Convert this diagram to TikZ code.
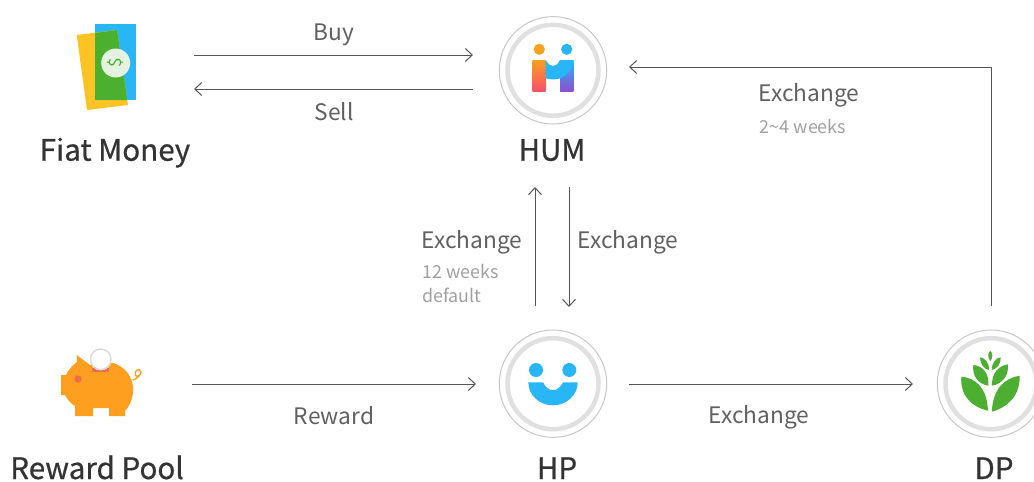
\documentclass[tikz,border=0pt]{standalone}
\usepackage{fontspec}
\setmainfont{Noto Sans CJK KR}
\usetikzlibrary{arrows.meta}
\definecolor{linegray}{HTML}{555555}
\definecolor{txt}{HTML}{606060}
\definecolor{smalltxt}{HTML}{A0A0A0}
\definecolor{darktxt}{HTML}{333333}
\definecolor{skyb}{HTML}{29B6F6}
\definecolor{leafg}{HTML}{4CAF32}
\definecolor{moneyg}{HTML}{4BB02E}
\definecolor{yel}{HTML}{FDC325}
\definecolor{pig}{HTML}{FF9F20}
\definecolor{pigeye}{HTML}{EE6A50}
\definecolor{humor}{HTML}{F9A01E}
\definecolor{humred}{HTML}{F5506A}
\definecolor{humpur}{HTML}{8E4FD0}
\tikzset{
 x=1pt,y=-1pt,
 arr/.style={draw=linegray,line width=1pt,-{Straight Barb[length=7pt,width=13pt,line width=1pt]}},
 ring/.style={circle,draw=black!22,line width=1pt,minimum size=107.4pt,inner sep=0pt,outer sep=0pt},
 ringin/.style={circle,draw=black!12,line width=4.5pt,minimum size=91pt,inner sep=0pt},
 title/.style={inner sep=0pt,anchor=base,text=darktxt,font=\fontsize{29.6}{32}\selectfont\addfontfeature{FakeBold=0.6}},
 lab/.style={inner sep=0pt,text=txt,font=\fontsize{22.7}{26}\selectfont},
 small/.style={inner sep=0pt,text=smalltxt,font=\fontsize{17.9}{21}\selectfont},
 leaf/.style={fill=leafg,draw=none},
}
\begin{document}
\begin{tikzpicture}
\clip (0,0) rectangle (1034,482);
\useasboundingbox (0,0) rectangle (1034,482);
% fiat icon
\node[inner sep=0pt,minimum width=60pt,minimum height=86pt] (fiat) at (106,67) {};
\fill[skyb] (95,24) rectangle (136,100);
\fill[yel] (76.7,35) -- (117,30) -- (128,105) -- (87,110) -- cycle;
\fill[moneyg] (95,33) -- (117,30) -- (127.3,100) -- (95,100) -- cycle;
\fill[white!85!moneyg] (115.7,63) circle (14.5);
\node[rotate=90,text=moneyg,inner sep=0pt,font=\fontsize{17}{17}\selectfont] (dollar) at (115.7,63) {\$};
% pig icon
\node[inner sep=0pt,minimum width=80pt,minimum height=68pt] (pigicon) at (98,385) {};
\fill[pig] (61,375) -- (66,375) .. controls (68,370) and (72,366) .. (77,362) -- (76.7,355) -- (90,365)
  .. controls (100,362) and (112,361) .. (118,365) .. controls (128,370) and (134,380) .. (133,392)
  .. controls (132,402) and (128,408) .. (125,411) -- (125,416) -- (109,416) -- (109,408) -- (93,408) -- (93,416) -- (75,416)
  -- (75,406) .. controls (70,403) and (67,399) .. (65,395) -- (61,395) -- cycle;
\fill[pigeye] (78,379) circle (3.6);
\fill[pigeye] (91.5,368) rectangle (109,372);
\fill[white] (100.7,359.3) circle (11);
\draw[black!15,line width=1.4pt] (100.7,359.3) circle (10.3);
\draw[pig,line width=1.3pt,line cap=round] (133,380) .. controls (140,378) and (143,371) .. (139,369.5) .. controls (135,369) and (134,376) .. (137,376.5) .. controls (140,376.5) and (141,373) .. (141,372);
% hubs
\node[ring] (hum) at (553,70.3) {};
\node[ringin] (humin) at (553,70.3) {};
\node[ring] (hp) at (553,383.7) {};
\node[ringin] (hpin) at (553,383.7) {};
\node[ring] (dp) at (991,383.7) {};
\node[ringin] (dpin) at (991,383.7) {};
% HUM logo
\fill[humor] (539.3,49.3) circle (5.6);
\fill[skyb] (566.7,49.3) circle (5.6);
\shade[top color=skyb,bottom color=humpur] (560,60) rectangle (573.3,91);
\shade[top color=humor,bottom color=humred] (532.7,60) rectangle (545.7,91);
\begin{scope}
\clip (545.7,55) rectangle (575,85);
\fill[skyb] (532.7,60) .. controls (532.7,71) and (542,79.5) .. (553,79.5) .. controls (564,79.5) and (573.3,71) .. (573.3,60) -- (560,60) .. controls (558,64) and (556,66) .. (553,66) .. controls (550,66) and (548,64) .. (546,60) -- cycle;
\end{scope}
% HP logo
\fill[skyb] (536,370) circle (7);
\fill[skyb] (569.3,370) circle (7);
\fill[skyb] (528.3,382.3) .. controls (528.3,395) and (539.4,405.3) .. (553,405.3) .. controls (566.6,405.3) and (577.7,395) .. (577.7,382.3) -- (563,382.3) .. controls (560,388) and (557,390) .. (553,390) .. controls (549,390) and (546,388) .. (543,382.3) -- cycle;
% DP logo
\fill[leaf] (961.3,376.7) .. controls (976,378) and (987,388) .. (988,410.7) .. controls (972,407) and (960,396) .. (961.3,376.7);
\fill[leaf] (1019.7,375.7) .. controls (1005,378) and (993,388) .. (991.8,411.7) .. controls (1008,407) and (1020,396) .. (1019.7,375.7);
\fill[leaf] (973.3,365) .. controls (983,366) and (989,373) .. (988.5,385.7) .. controls (978,384) and (972,376) .. (973.3,365);
\fill[leaf] (1008,364.3) .. controls (998,366) and (992,373) .. (991.8,385.7) .. controls (1002,384) and (1009,376) .. (1008,364.3);
\fill[leaf] (980,357.3) .. controls (985,358) and (989,362) .. (989,370) .. controls (984,369) and (980,364) .. (980,357.3);
\fill[leaf] (1000.7,357.3) .. controls (996,358) and (992,362) .. (991.7,370) .. controls (997,369) and (1001,364) .. (1000.7,357.3);
\fill[leaf] (990.3,350.7) .. controls (993,353) and (993,358) .. (990.3,361) .. controls (987.6,358) and (987.6,353) .. (990.3,350.7);
% connector ends
\coordinate (buyS) at (194,55); \coordinate (buyE) at (473,55);
\coordinate (sellS) at (473,89); \coordinate (sellE) at (194,89);
\coordinate (upS) at (535,306); \coordinate (upE) at (535,187);
\coordinate (dnS) at (569,187); \coordinate (dnE) at (569,307);
\coordinate (rwS) at (192,384); \coordinate (rwE) at (476,384);
\coordinate (exS) at (629,384); \coordinate (exE) at (913,384);
\coordinate (dpS) at (991,306); \coordinate (dpC) at (991,67); \coordinate (dpE) at (629,67);
\draw[arr] (buyS) -- (buyE);
\draw[arr] (sellS) -- (sellE);
\draw[arr] (upS) -- (upE);
\draw[arr] (dnS) -- (dnE);
\draw[arr] (rwS) -- (rwE);
\draw[arr] (exS) -- (exE);
\draw[arr] (dpS) -- (dpC) -- (dpE);
% labels
\node[lab] (buy) at (334,35) {Buy};
\node[lab] (sell) at (334,112) {Sell};
\node[title] (tfiat) at (115,160.7) {Fiat Money};
\node[title] (thum) at (552,160.7) {HUM};
\node[title] (trw) at (97,479) {Reward Pool};
\node[title] (thp) at (557,479) {HP};
\node[title] (tdp) at (994,479) {DP};
\node[lab] (ex1) at (809,95) {Exchange};
\node[small] (w1) at (803,126) {2\textasciitilde 4 weeks};
\node[lab] (ex2) at (472,242) {Exchange};
\node[small,anchor=west] (w2) at (422,271) {12 weeks};
\node[small,anchor=west] (w3) at (422,295) {default};
\node[lab] (ex3) at (628,242) {Exchange};
\node[lab] (rw) at (334,416) {Reward};
\node[lab] (ex4) at (759,417) {Exchange};
\end{tikzpicture}
\end{document}
